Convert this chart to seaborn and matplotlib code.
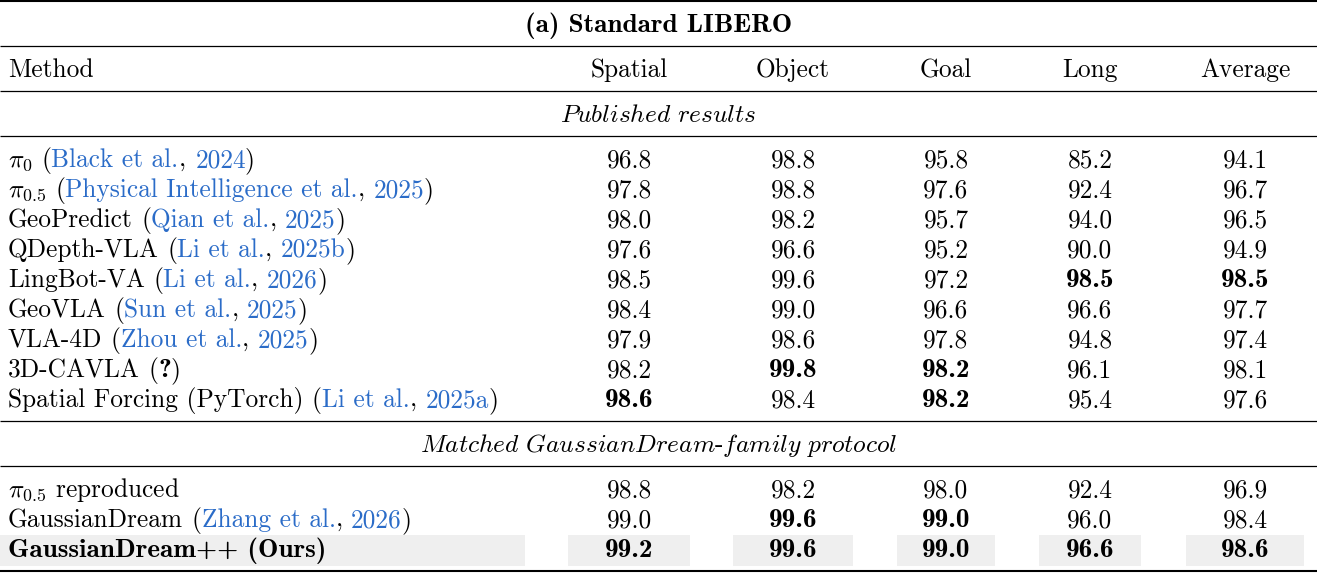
import numpy as np
import pandas as pd
import matplotlib
matplotlib.use("Agg")
import matplotlib.pyplot as plt
import seaborn as sns
from matplotlib.patches import Rectangle

# ---- data ----
title = "(a) Standard LIBERO"
columns = ["Spatial", "Object", "Goal", "Long", "Average"]

published_methods = [r"$\pi_0$", r"$\pi_{0.5}$", "GeoPredict", "QDepth-VLA", "LingBot-VA",
                     "GeoVLA", "VLA-4D", "3D-CAVLA", "Spatial Forcing (PyTorch)"]
published_authors = ["Black et al.", "Physical Intelligence et al.", "Qian et al.", "Li et al.",
                     "Li et al.", "Sun et al.", "Zhou et al.", "?", "Li et al."]
published_years = ["2024", "2025", "2025", "2025b", "2026", "2025", "2025", "", "2025a"]
published_spatial = [96.8, 97.8, 98.0, 97.6, 98.5, 98.4, 97.9, 98.2, 98.6]
published_object = [98.8, 98.8, 98.2, 96.6, 99.6, 99.0, 98.6, 99.8, 98.4]
published_goal = [95.8, 97.6, 95.7, 95.2, 97.2, 96.6, 97.8, 98.2, 98.2]
published_long = [85.2, 92.4, 94.0, 90.0, 98.5, 96.6, 94.8, 96.1, 95.4]
published_average = [94.1, 96.7, 96.5, 94.9, 98.5, 97.7, 97.4, 98.1, 97.6]

matched_methods = [r"$\pi_{0.5}$ reproduced", "GaussianDream", "GaussianDream++ (Ours)"]
matched_authors = ["", "Zhang et al.", ""]
matched_years = ["", "2026", ""]
matched_spatial = [98.8, 99.0, 99.2]
matched_object = [98.2, 99.6, 99.6]
matched_goal = [98.0, 99.0, 99.0]
matched_long = [92.4, 96.0, 96.6]
matched_average = [96.9, 98.4, 98.6]

sections = [
    ("Published results",
     pd.DataFrame({"method": published_methods, "author": published_authors,
                   "year": published_years, "Spatial": published_spatial,
                   "Object": published_object, "Goal": published_goal,
                   "Long": published_long, "Average": published_average})),
    ("Matched GaussianDream-family protocol",
     pd.DataFrame({"method": matched_methods, "author": matched_authors,
                   "year": matched_years, "Spatial": matched_spatial,
                   "Object": matched_object, "Goal": matched_goal,
                   "Long": matched_long, "Average": matched_average})),
]
ours = "GaussianDream++ (Ours)"

# ---- style ----
sns.set_style("white")
plt.rcParams["font.family"] = ["cmr10", "DejaVu Serif"]
plt.rcParams["mathtext.fontset"] = "cm"
plt.rcParams["axes.formatter.use_mathtext"] = True

FS = 18.3
FS_BOLD = 19.6   # cmb10 is narrower than the bold-extended face in the original
BASE = 8.6
BLUE = "#2b6cc8"
SHADE = "#efefef"
W, H = 1317, 573
col_x = [629, 793, 946, 1090, 1245]
cell_half = [61, 60, 49, 51, 59]
left_x = 8
row_step = 30
half_gap = 22.5

fig = plt.figure(figsize=(W / 100, H / 100), dpi=100)
ax = fig.add_axes([0, 0, 1, 1])
ax.set_xlim(0, W)
ax.set_ylim(H, 0)
ax.axis("off")
renderer = fig.canvas.get_renderer()


def txt(x, y, s, ha="left", bold=False, color="black"):
    return ax.text(x, y + BASE, s, ha=ha, va="baseline",
                   fontsize=FS_BOLD if bold else FS, color=color,
                   family=["cmb10"] if bold else ["cmr10"], zorder=3)


def width(t):
    return t.get_window_extent(renderer).width


def measure(s, bold=False):
    t = txt(0, 300, s, bold=bold)
    w = width(t)
    t.remove()
    return w


def pieces(x, y, parts):
    # each piece starts where it would sit inside the full string
    prefix = ""
    for s, color, bold in parts:
        core = s.strip(" ")
        full = prefix + s
        if core:
            start = x + measure(full.rstrip(" ")) - measure(core)
            if not prefix:
                start = x
            txt(start, y, core, bold=bold, color=color)
        prefix = full


def rule(y, lw):
    ax.plot([0, W], [y, y], color="black", lw=lw, solid_capstyle="butt", zorder=4)


y = 1
rule(y, 1.5)
y += half_gap
txt(W / 2, y, title, ha="center", bold=True)
y += half_gap
rule(y, 0.9)
y += half_gap
txt(left_x, y, "Method")
for cx, c in zip(col_x, columns):
    txt(cx, y, c, ha="center")
y += half_gap
rule(y, 0.9)

for s_idx, (label, df) in enumerate(sections):
    y += half_gap
    head = label.split("-")
    if len(head) > 1:
        lab = (r"$\mathit{" + head[0].replace(" ", r"\ ") + "}$-$\mathit{"
               + head[1].replace(" ", r"\ ") + "}$")
    else:
        lab = r"$\mathit{" + label.replace(" ", r"\ ") + "}$"
    txt(W / 2, y, lab, ha="center")
    y += half_gap
    rule(y, 0.9)
    y += half_gap
    col_max = df[columns].max()
    for i, row in df.iterrows():
        if i > 0:
            y += row_step
        is_ours = row["method"] == ours
        if is_ours:
            ax.add_patch(Rectangle((0, y - 14), 525, 31, color=SHADE, lw=0, zorder=1))
            for cx, half in zip(col_x, cell_half):
                ax.add_patch(Rectangle((cx - half, y - 14), 2 * half, 31,
                                       color=SHADE, lw=0, zorder=1))
        parts = [(row["method"], "black", is_ours)]
        if row["author"] == "?":
            parts += [(" (", "black", False), ("?", "black", True), (")", "black", False)]
        elif row["author"]:
            parts += [(" (", "black", False), (row["author"], BLUE, False),
                      (", ", "black", False), (row["year"], BLUE, False),
                      (")", "black", False)]
        pieces(left_x, y, parts)
        for cx, c in zip(col_x, columns):
            v = row[c]
            txt(cx, y, f"{v:.1f}", ha="center", bold=is_ours or v == col_max[c])
    y += half_gap
    if s_idx == 0:
        rule(y, 0.9)
    else:
        rule(571, 1.5)

fig.savefig("out.png", dpi=100)
